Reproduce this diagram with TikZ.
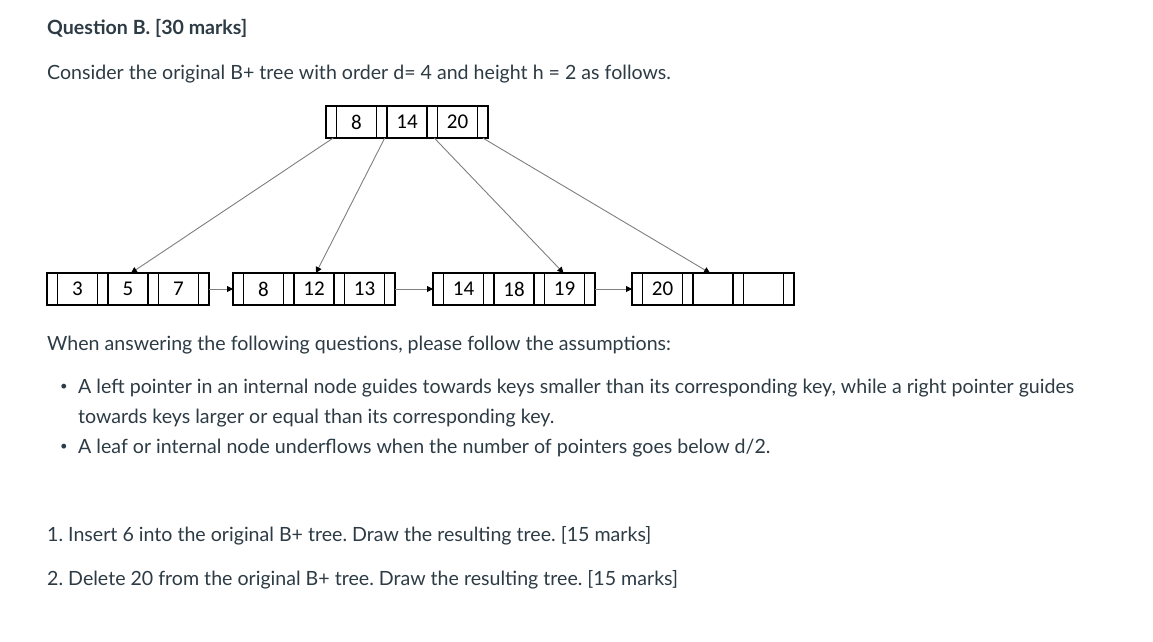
\documentclass[tikz,border=0pt]{standalone}
\usepackage{fontspec}
\setmainfont{Lato}
\newfontfamily\keyfont{Carlito}
\usetikzlibrary{arrows.meta}
\definecolor{txt}{HTML}{2D3B45}
\definecolor{link}{HTML}{7F7F7F}
\frenchspacing
\tikzset{
  cell/.style={draw=black,line width=1.1pt,minimum height=32pt,inner sep=0pt,outer sep=0pt,anchor=west,font=\keyfont\fontsize{21}{24}\selectfont},
  ptrcell/.style={cell,minimum width=10.5pt},
  keycell/.style={cell,minimum width=40pt},
  para/.style={anchor=base west,inner sep=0pt,text=txt,font=\fontsize{19.6}{23}\selectfont},
  bul/.style={anchor=center,inner sep=0pt,text=txt,font=\fontsize{13}{15}\selectfont},
  conn/.style={draw=link,line width=0.9pt,-{Triangle[length=6pt,width=6pt,color=black]}},
}
\newcommand{\bpnode}[6]{%
  \node[ptrcell] (#1-p0) at (#2,#3) {};
  \node[keycell] (#1-k1) at (#1-p0.east) {#4};
  \node[ptrcell] (#1-p1) at (#1-k1.east) {};
  \node[keycell] (#1-k2) at (#1-p1.east) {#5};
  \node[ptrcell] (#1-p2) at (#1-k2.east) {};
  \node[keycell] (#1-k3) at (#1-p2.east) {#6};
  \node[ptrcell] (#1-p3) at (#1-k3.east) {};
}
\begin{document}
\begin{tikzpicture}[x=1pt,y=-1pt]
\useasboundingbox[fill=white] (0,0) rectangle (1153,642);
% texts
\node[para,font=\bfseries\fontsize{19.6}{23}\selectfont] (title) at (47,35) {Question B. [30 marks]};
\node[para] (intro) at (47,79) {Consider the original B+ tree with order d= 4 and height h = 2 as follows.};
\node[para] (when) at (47,350) {When answering the following questions, please follow the assumptions:};
\node[bul] (b1) at (64,387) {•};
\node[para] (l1) at (78,393) {A left pointer in an internal node guides towards keys smaller than its corresponding key, while a right pointer guides};
\node[para] (l2) at (78,423) {towards keys larger or equal than its corresponding key.};
\node[bul] (b2) at (64,447) {•};
\node[para] (l3) at (78,453) {A leaf or internal node underflows when the number of pointers goes below d/2.};
\node[para] (q1) at (47,541) {1. Insert 6 into the original B+ tree. Draw the resulting tree. [15 marks]};
\node[para] (q2) at (47,585) {2. Delete 20 from the original B+ tree. Draw the resulting tree. [15 marks]};
% tree
\bpnode{root}{326}{122}{8}{14}{20}
\bpnode{la}{47}{289}{3}{5}{7}
\bpnode{lb}{233}{289}{8}{12}{13}
\bpnode{lc}{433}{289}{14}{18}{19}
\bpnode{ld}{632}{289}{20}{}{}
\draw[conn] ([xshift=2pt]root-p0.south) -- ([xshift=3pt]la-k2.north);
\draw[conn] ([xshift=3pt]root-p1.south) -- ([xshift=2pt]lb-k2.north);
\draw[conn] ([xshift=2pt]root-p2.south) -- ([xshift=-1pt]lc-k3.north);
\draw[conn] (root-p3.south) -- ([xshift=-3pt]ld-k2.north);
\draw[conn] (la-p3.east) -- (lb-p0.west);
\draw[conn] (lb-p3.east) -- (lc-p0.west);
\draw[conn] (lc-p3.east) -- (ld-p0.west);
\end{tikzpicture}
\end{document}
